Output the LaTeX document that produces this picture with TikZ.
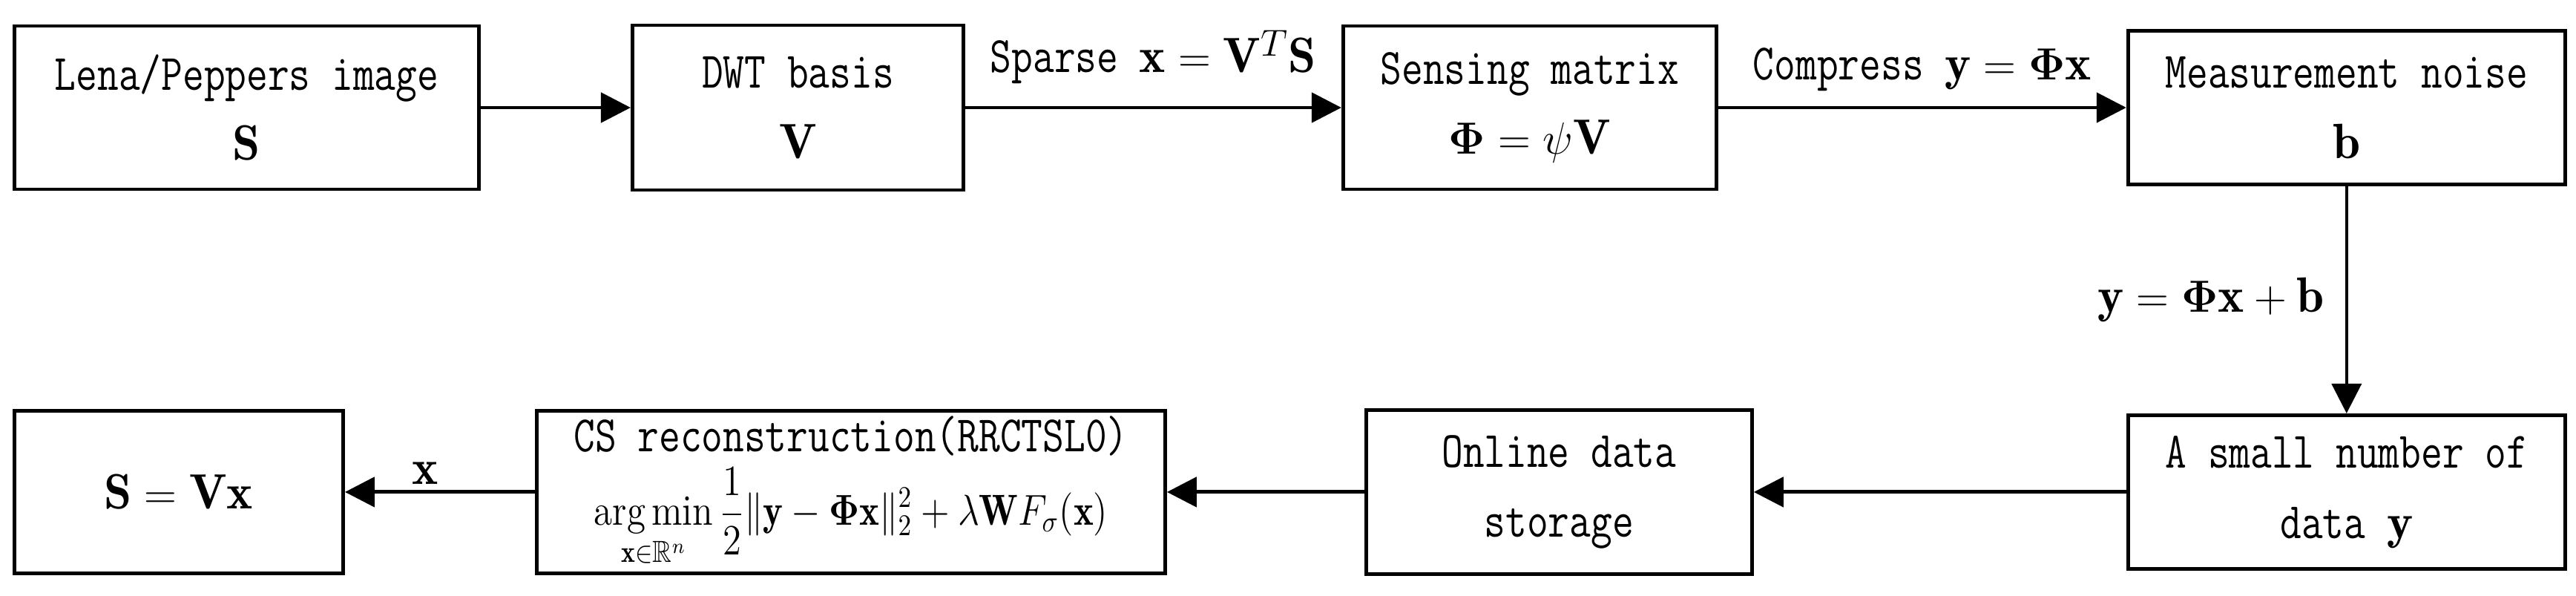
\documentclass[tikz,border=0pt]{standalone}
\usepackage{amsmath}
\usepackage{amssymb}
\usepackage{bm}
\usepackage{fontspec}
\newfontfamily\boxfont[FakeStretch=0.81]{Latin Modern Mono}
\usetikzlibrary{positioning}
\usetikzlibrary{arrows.meta}

\newcommand{\eqsz}{\fontsize{19}{22}\selectfont}

\tikzset{
	block/.style={draw, line width=1.4pt, align=center, inner sep=0pt, font=\boxfont\fontsize{19.6}{27}\selectfont},
	flow/.style={line width=1.4pt, -{Triangle[length=0.4cm,width=0.4cm]}},
	lbl/.style={inner sep=0pt, font=\boxfont\fontsize{19.6}{24}\selectfont}
}

\begin{document}
\begin{tikzpicture}
	
	\useasboundingbox (0,0) rectangle (34.72,8.02);
	
	\node [block, minimum width=6.26cm, minimum height=2.2cm] at (3.325,6.57) (lena) {Lena/Peppers image\\{\eqsz$\mathbf{S}$}};
	\node [block, minimum width=4.46cm, minimum height=2.22cm, right=2.02cm of lena] (dwt) {DWT basis\\{\eqsz$\mathbf{V}$}};
	\node [block, minimum width=5.03cm, minimum height=2.2cm, right=5.07cm of dwt] (sens) {Sensing matrix\\{\eqsz$\bm{\Phi}=\psi\mathbf{V}$}};
	\node [block, minimum width=5.89cm, minimum height=2.07cm, right=5.5cm of sens] (noise) {Measurement noise\\{\eqsz$\mathbf{b}$}};
	
	\node [block, minimum width=5.89cm, minimum height=2.07cm, below=3.06cm of noise] (small) {A small number of\\data {\eqsz$\mathbf{y}$}};
	\node [block, minimum width=5.2cm, minimum height=2.21cm, left=5.02cm of small] (online) {Online data\\storage};
	\node [block, minimum width=8.47cm, minimum height=2.19cm, left=2.66cm of online] (cs) {CS reconstruction(RRCTSL0)\\[1pt]\scalebox{1}[1.15]{\fontsize{14.5}{17}\selectfont$\displaystyle\operatorname*{arg\,min}_{\mathbf{x}\in\mathbb{R}^n}\frac{1}{2}\|\mathbf{y}-\bm{\Phi}\mathbf{x}\|_2^2+\lambda\mathbf{W}F_{\sigma}(\mathbf{x})$}};
	\node [block, minimum width=4.43cm, minimum height=2.19cm, left=2.56cm of cs] (svx) {{\eqsz$\mathbf{S}=\mathbf{V}\mathbf{x}$}};
	
	\draw [flow] (lena) -- (dwt);
	\draw [flow] (dwt) -- node [lbl, above=0.3cm] {Sparse {\eqsz$\mathbf{x}=\mathbf{V}^{T}\mathbf{S}$}} (sens);
	\draw [flow] (sens) -- node [lbl, above=0.2cm] {Compress {\eqsz$\mathbf{y}=\bm{\Phi}\mathbf{x}$}} (noise);
	\draw [flow, line width=1.1pt] (noise) -- node [lbl, left=0.28cm] {\eqsz$\mathbf{y}=\bm{\Phi}\mathbf{x}+\mathbf{b}$} (small);
	
	\draw [flow] (small) -- (online);
	\draw [flow] (online) -- (cs);
	\draw [flow] (cs) -- node [lbl, above=0.08cm, xshift=-0.2cm] {\eqsz$\mathbf{x}$} (svx);
	
\end{tikzpicture}
\end{document}
